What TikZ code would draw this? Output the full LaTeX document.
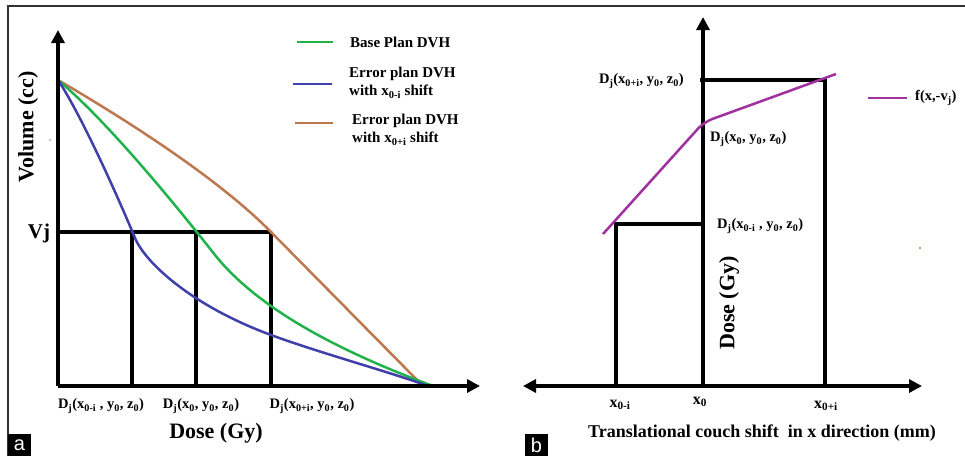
\documentclass[tikz,border=0pt]{standalone}
\usepackage{fontspec}
\setmainfont{Liberation Serif}
\setsansfont{Liberation Sans}
\usetikzlibrary{arrows.meta}
\definecolor{cgreen}{RGB}{34,178,76}
\definecolor{cblue}{RGB}{64,64,170}
\definecolor{cbrown}{RGB}{190,120,80}
\definecolor{cpurple}{RGB}{160,50,160}
\definecolor{cframe}{RGB}{50,50,50}
\newcommand{\sbx}[1]{\textsubscript{#1}}
\newcommand{\Djlab}[1]{D\sbx{j}(#1, y\sbx{0}, z\sbx{0})}
\begin{document}
\begin{tikzpicture}[x=1pt,y=-1pt,
  axis/.style={line width=3.3pt,-{Triangle[length=13pt,width=13pt]}},
  daxis/.style={line width=3.3pt,{Triangle[length=13pt,width=13pt]}-{Triangle[length=13pt,width=13pt]}},
  guide/.style={line width=3.1pt},
  curve/.style={line width=2.5pt},
  lbl/.style={font=\bfseries\fontsize{14.5}{17}\selectfont,inner sep=0pt},
  big/.style={font=\bfseries\fontsize{22}{24}\selectfont,inner sep=0pt},
  leg/.style={font=\bfseries\fontsize{15}{18}\selectfont,inner sep=0pt,align=left,anchor=west},
  tick/.style={font=\bfseries\fontsize{16}{18}\selectfont,inner sep=0pt},
  tag/.style={fill=black,text=white,font=\sffamily\fontsize{20}{20}\selectfont,minimum width=23pt,minimum height=22pt,inner sep=0pt}
]
\useasboundingbox (0,0) rectangle (965,456);
% frame
\draw[cframe,line width=1.5pt] (8,456) -- (8,6) -- (965,6);

% ---------- panel a ----------
\coordinate (aO) at (58,386);
\coordinate (aY) at (58,30);
\coordinate (aX) at (480,386);
\coordinate (aS) at (58,80);
\coordinate (aV) at (58,232);
\coordinate (a1) at (132,232);
\coordinate (a2) at (196,232);
\coordinate (a3) at (271,232);
\coordinate (b1) at (132,386);
\coordinate (b2) at (196,386);
\coordinate (b3) at (271,386);
\coordinate (eBr) at (423,386);
\coordinate (eGr) at (433,386);
\coordinate (eBl) at (428,386);

\draw[guide] (aV) -- (a3);
\draw[guide] (a1) -- (b1);
\draw[guide] (a2) -- (b2);
\draw[guide] (a3) -- (b3);

\draw[curve,cbrown] (aS) .. controls (130,122) and (220,180) .. (a3) -- (eBr);
\draw[curve,cgreen] (aS) .. controls (100,115) and (160,185) .. (215,255)
   .. controls (255,305) and (330,348) .. (eGr);
\draw[curve,cblue] (aS) .. controls (80,113) and (115,190) .. (135,238)
   .. controls (145,262) and (190,305) .. (271,335)
   .. controls (320,353) and (390,372) .. (eBl);

\draw[axis] (aO) -- (aY);
\draw[axis] (aO) -- (aX);

\node[big,rotate=90] (avol) at (28,127) {Volume (cc)};
\node[font=\bfseries\fontsize{21}{22}\selectfont,inner sep=0pt] (avj) at (39,233) {Vj};
\node[big] (adose) at (216,433) {Dose (Gy)};
\node[lbl] (ad1) at (101,406) {\Djlab{x\sbx{0-i} }};
\node[lbl] (ad2) at (201,406) {\Djlab{x\sbx{0}}};
\node[lbl] (ad3) at (312,406) {\Djlab{x\sbx{0+i}}};

% legend a
\coordinate (lg1a) at (297,42); \coordinate (lg1b) at (333,42);
\coordinate (lg2a) at (293,84); \coordinate (lg2b) at (332,84);
\coordinate (lg3a) at (295,123); \coordinate (lg3b) at (333,123);
\draw[line width=2.6pt,cgreen] (lg1a) -- (lg1b);
\draw[line width=2.6pt,cblue] (lg2a) -- (lg2b);
\draw[line width=2.6pt,cbrown] (lg3a) -- (lg3b);
\node[leg] (lt1) at (350,42) {Base Plan DVH};
\node[leg] (lt2) at (349,83) {Error plan DVH\\with x\sbx{0-i} shift};
\node[leg] (lt3) at (352,130) {Error plan DVH\\with x\sbx{0+i} shift};

\fill[cbrown] (50,140) circle (0.8pt);
\node[tag] (taga) at (19.5,445) {a};

% ---------- panel b ----------
\coordinate (bO) at (703,386);
\coordinate (bY) at (703,17);
\coordinate (bL) at (523,386);
\coordinate (bR) at (922,386);
\coordinate (p1) at (616,224);
\coordinate (p1b) at (616,386);
\coordinate (p1y) at (703,224);
\coordinate (p3) at (825,80);
\coordinate (p3b) at (825,386);
\coordinate (p3y) at (700,80);

\draw[guide] (p1b) -- (p1) -- (p1y);
\draw[guide] (p3y) -- (p3) -- (p3b);
\draw[daxis] (bL) -- (bR);
\draw[axis] (bO) -- (bY);

\coordinate (c0) at (603,234);
\coordinate (cm) at (704,122);
\coordinate (c1) at (836,74);
\draw[curve,cpurple,rounded corners=9pt] (c0) -- (cm) -- (c1);

\node[lbl,anchor=east] (bd3) at (684,81) {\Djlab{x\sbx{0+i}}};
\node[lbl,anchor=west] (bd2) at (710,139) {\Djlab{x\sbx{0}}};
\node[lbl,anchor=west] (bd1) at (717,226) {\Djlab{x\sbx{0-i} }};
\node[big,rotate=90] (bdose) at (729,303) {Dose (Gy)};

\node[tick] (bx1) at (620,405) {x\sbx{0-i}};
\node[tick] (bx2) at (700,402) {x\sbx{0}};
\node[tick] (bx3) at (826,406) {x\sbx{0+i}};
\node[font=\bfseries\fontsize{18}{20}\selectfont,inner sep=0pt] (btitle) at (762,433) {Translational couch shift\ \ in x direction (mm)};

\coordinate (lpa) at (868,98); \coordinate (lpb) at (907,98);
\draw[line width=2.6pt,cpurple] (lpa) -- (lpb);
\node[lbl,anchor=west] (lpt) at (915,98) {f(x,-v\sbx{j})};

\fill[cbrown] (920,248) circle (1.2pt);
\node[tag] (tagb) at (536.5,445) {b};
\end{tikzpicture}
\end{document}
